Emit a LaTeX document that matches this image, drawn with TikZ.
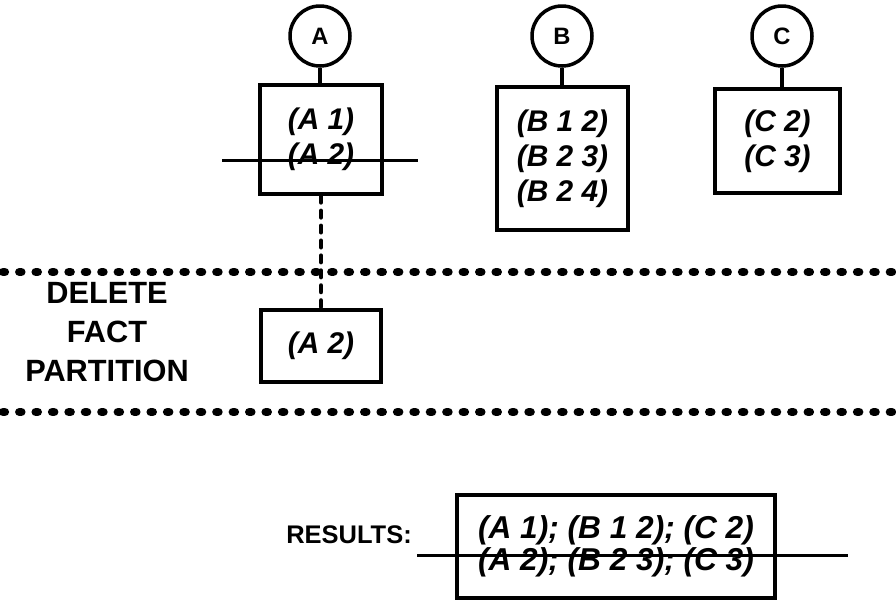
\documentclass[tikz,border=0pt]{standalone}
\usepackage{fontspec}
\setmainfont{Liberation Sans}
\usetikzlibrary{positioning}

\begin{document}
\begin{tikzpicture}[
    x=0.02cm, y=-0.02cm,
    font=\bfseries,
    rel/.style={circle, draw, line width=2pt, minimum size=1.2cm, inner sep=0pt,
        font=\bfseries\fontsize{13.5}{13.5}\selectfont},
    factbox/.style={draw, line width=2.4pt, align=center, inner sep=0pt,
        font=\bfseries\itshape\fontsize{17}{20}\selectfont},
    stem/.style={line width=2pt},
    strike/.style={line width=1.7pt},
    partline/.style={line width=5pt, line cap=round, dash pattern=on 1pt off 8.35pt},
    link/.style={line width=2.8pt, line cap=round, dash pattern=on 3.5pt off 5pt},
    caption/.style={align=center, font=\bfseries\fontsize{17.5}{22}\selectfont}
]
\useasboundingbox (0,0) rectangle (896,600);

    % --- Coordinates ---
    \coordinate (strikeA_l) at (222,160);
    \coordinate (strikeA_r) at (418,160);
    \coordinate (part1_l)   at (3,272);
    \coordinate (part1_r)   at (896,272);
    \coordinate (part2_l)   at (3,412);
    \coordinate (part2_r)   at (896,412);
    \coordinate (strikeR_l) at (417,555);
    \coordinate (strikeR_r) at (848,555);

    % --- Relations ---
    \node[rel] (relA) at (320,36) {A};
    \node[rel] (relB) at (562,36) {B};
    \node[rel] (relC) at (782,36) {C};

    % --- Fact boxes ---
    \node[factbox, minimum width=2.44cm, minimum height=2.18cm] (boxA) at (321,139.5) {(A 1)\\(A 2)};
    \node[factbox, minimum width=2.62cm, minimum height=2.86cm] (boxB) at (562.5,158.5) {(B 1 2)\\(B 2 3)\\(B 2 4)};
    \node[factbox, minimum width=2.5cm, minimum height=2.08cm] (boxC) at (777.5,141) {(C 2)\\(C 3)};

    \draw[stem] (relA) -- (relA |- boxA.north);
    \draw[stem] (relB) -- (relB |- boxB.north);
    \draw[stem] (relC) -- (relC |- boxC.north);

    \draw[strike] (strikeA_l) -- (strikeA_r);

    % --- Delete fact partition ---
    \draw[partline] (part1_l) -- (part1_r);
    \draw[partline] (part2_l) -- (part2_r);

    \node[caption] (delLabel) at (107,332) {DELETE\\FACT\\PARTITION};
    \node[factbox, minimum width=2.4cm, minimum height=1.44cm] (delA) at (321,346) {(A 2)};

    \draw[link] (boxA.south) -- (delA.north);

    % --- Results ---
    \node[font=\bfseries\fontsize{14.5}{14.5}\selectfont] (resLabel) at (349,535) {RESULTS:};
    \node[factbox, minimum width=6.36cm, minimum height=2.06cm,
        font=\bfseries\itshape\fontsize{18}{18}\selectfont] (resBox) at (616,546.5)
        {(A 1); (B 1 2); (C 2)\\(A 2); (B 2 3); (C 3)};

    \draw[strike] (strikeR_l) -- (strikeR_r);

\end{tikzpicture}
\end{document}
